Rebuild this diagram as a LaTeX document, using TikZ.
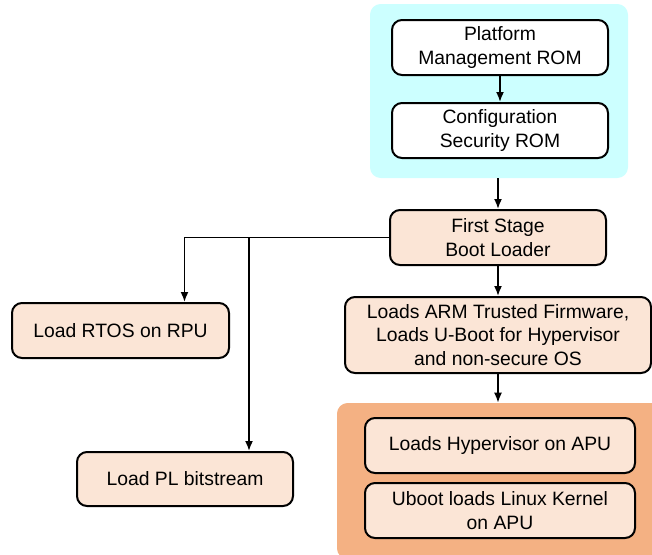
\documentclass[tikz,border=0pt]{standalone}
\usepackage{fontspec}
\setmainfont{Liberation Sans}
\usetikzlibrary{arrows,arrows.meta,backgrounds,calc}

\definecolor{romcyan}{HTML}{CCFFFF}
\definecolor{bootpeach}{HTML}{FBE5D6}
\definecolor{apuorange}{HTML}{F4B183}

\begin{document}
\begin{tikzpicture}[x=0.75pt,y=-0.75pt,>={Latex[length=7.5pt,width=6pt]},
  stage/.style={draw,line width=1.5pt,rounded corners=7.5pt,fill=bootpeach,align=center,
    minimum width=162pt,minimum height=41.25pt,inner sep=2pt,
    font=\fontsize{14.5}{17.5}\selectfont},
  rom/.style={stage,fill=white},
  group/.style={rounded corners=8pt,inner sep=0pt},
  link/.style={->,line width=1.3pt}]
\useasboundingbox (0,0) rectangle (652,554);

% coloured groups
\node[group,fill=romcyan,minimum width=193.5pt,minimum height=130.5pt] (rombox) at (499,91) {};
\node[group,fill=apuorange,minimum width=247.5pt,minimum height=117pt] (apubox) at (502,481) {};

% boxes
\node[rom] (pmrom) at (500,47.5) {Platform\\Management ROM};
\node[rom] (csrom) at (500,130.5) {Configuration\\Security ROM};
\node[stage] (fsbl) at (498,237.5) {First Stage\\Boot Loader};
\node[stage,minimum width=229.5pt,minimum height=57pt] (atf) at (498,335)
  {Loads ARM Trusted Firmware,\\Loads U-Boot for Hypervisor\\and non-secure OS};
\node[stage,minimum width=202.5pt] (hyp) at (500,445.5) {Loads Hypervisor on APU};
\node[stage,minimum width=202.5pt] (linux) at (500,510.5) {Uboot loads Linux Kernel\\on APU};
\node[stage,minimum width=162.75pt] (rtos) at (120.5,330.5) {Load RTOS on RPU};
\node[stage,minimum height=40.5pt] (pl) at (185,479) {Load PL bitstream};

% connectors
\draw[link] (pmrom) -- (csrom);
\draw[link] (rombox.south -| fsbl.north) -- (fsbl.north);
\draw[link] (fsbl) -- (atf);
\draw[link] (atf.south) -- (atf.south |- apubox.north);
\draw[link] (fsbl.west) -| ([xshift=48pt]rtos.north);
\draw[link] ([xshift=48pt]pl.north |- fsbl.west) -- ([xshift=48pt]pl.north);
\end{tikzpicture}
\end{document}
